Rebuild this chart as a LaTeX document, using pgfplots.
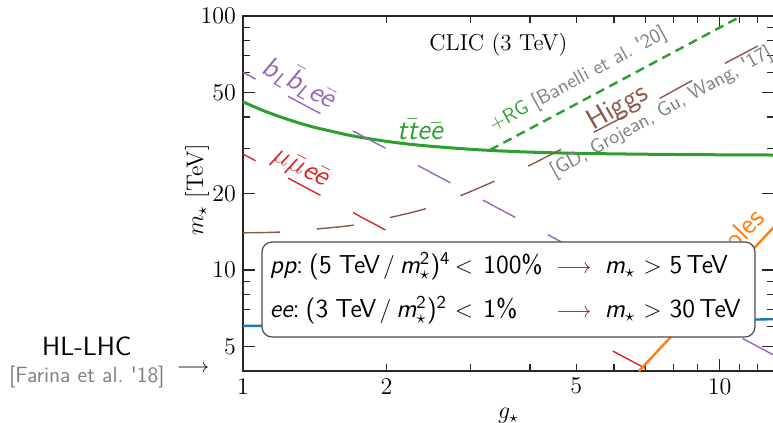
\documentclass[border=0pt]{standalone}
\usepackage{pgfplots}
\pgfplotsset{compat=1.18}
\usepackage{amsmath}
\definecolor{cblue}{HTML}{1F77B4}
\definecolor{corange}{HTML}{FF7F0E}
\definecolor{cgreen}{HTML}{2CA02C}
\definecolor{cred}{HTML}{D62728}
\definecolor{cpurple}{HTML}{9467BD}
\definecolor{cbrown}{HTML}{8C564B}
\definecolor{cgray}{HTML}{7F7F7F}
\definecolor{carrow}{HTML}{A01818}
\newcommand{\s}[1]{\text{\sffamily\itshape #1}}
\newcommand{\boxline}[4]{%
  \makebox[92.5pt][l]{#1}\makebox[45pt][l]{$<$\hspace{5pt}#2}\hspace{5pt}%
  \makebox[19pt]{\fontsize{11.4}{13}\selectfont\textcolor{carrow}{$\longrightarrow$}}\hspace{6pt}%
  $\s{m}_\star$\hspace{4pt}$>$\hspace{4pt}#3\,TeV#4}
\begin{document}
\begin{tikzpicture}
\begin{axis}[
  xmode=log, ymode=log,
  scale only axis, width=265.5pt, height=177.5pt,
  xmin=1, xmax=13, ymin=4, ymax=100,
  xtick={1,10}, xticklabels={1,10},
  extra x ticks={2,5}, extra x tick labels={2,5},
  extra x tick style={major tick length=3.5pt},
  minor xtick={3,4,6,7,8,9,11,12,13},
  ytick={5,10,20,50,100}, yticklabels={5,10,20,50,100},
  minor ytick={4,6,7,8,9,30,40,60,70,80,90},
  tick align=inside,
  major tick length=6pt, minor tick length=3.5pt,
  axis line style={line width=0.9pt, black!85},
  every tick/.style={black!85, line width=0.6pt},
  tick label style={font=\large},
  xlabel={$g_\star$}, ylabel={$m_\star$ [TeV]},
  label style={font=\large},
  ylabel style={at={(rel axis cs:-0.0866,0.51)}, anchor=center},
  clip=false,
]
% t tbar e ebar
\addplot[cgreen, line width=1.5pt, smooth] coordinates {
 (1,45.9) (1.1,42.5) (1.2,40.0) (1.3,38.1) (1.4,36.6) (1.5,35.5) (1.7,33.7)
 (2.0,32.1) (2.3,31.1) (2.7,30.3) (3.2,29.65) (4,29.1) (5,28.8) (6.5,28.6)
 (8.5,28.46) (11,28.39) (13,28.35)};
% +RG
\addplot[cgreen, line width=1.2pt, dash pattern=on 4.6pt off 2.9pt] coordinates {(3.3,29.7) (11.11,100)};
% bL bLbar e ebar
\addplot[cpurple, line width=0.7pt, dash pattern=on 18.4pt off 18.4pt, dash phase=11.3pt] coordinates {(1,60) (13,4.615)};
% mu mubar e ebar
\addplot[cred, line width=0.7pt, dash pattern=on 18.4pt off 18.4pt, dash phase=11.3pt] coordinates {(1,28.6) (7.15,4)};
% Higgs
\addplot[cbrown, line width=0.7pt, dash pattern=on 18.5pt off 18.5pt, smooth] coordinates {
 (1,14.0) (1.196,14.1) (1.43,14.5) (1.70,15.0) (2.01,16.0) (2.41,17.4) (2.82,19.4)
 (3.34,22.2) (3.94,25.5) (4.62,29.7) (5.5,35.2) (6.4,40.8) (7.38,46.7) (8.65,55.0)
 (10.1,64.1) (11.8,74.8) (13,82.5)};
% HL-LHC
\addplot[cblue, line width=1.2pt] coordinates {(1,6.02) (2,6.05) (4,6.12) (7,6.25) (13,6.4)};
% dipoles
\addplot[corange, line width=1.2pt] coordinates {(6.77,4) (13,14.77)};

\node[font=\fontsize{11.5}{13}\selectfont] at (rel axis cs:0.481,0.918) {CLIC (3 TeV)};
\node[cpurple, rotate=-28, font=\Large\sffamily] at (rel axis cs:0.107,0.814) {$\s{b}_{\s{L}}\bar{\s{b}}_{\s{L}}\s{e}\bar{\s{e}}$};
\node[cred, rotate=-28, font=\Large\sffamily] at (rel axis cs:0.107,0.572) {$\mu\bar{\mu}\s{e}\bar{\s{e}}$};
\node[cgreen, font=\Large\sffamily] at (rel axis cs:0.333,0.679) {$\s{t}\bar{\s{t}}\s{e}\bar{\s{e}}$};
\node[rotate=28.5, font=\sffamily] at (rel axis cs:0.631,0.820) {\textcolor{cgreen}{+RG} \textcolor{cgray}{[Banelli et al.\ \textquotesingle 20]}};
\node[cbrown, rotate=30, font=\Large\sffamily] at (rel axis cs:0.706,0.741) {Higgs};
\node[cgray, rotate=29, font=\sffamily] at (rel axis cs:0.788,0.728) {[GD, Grojean, Gu, Wang, \textquotesingle 17]};
\node[corange, rotate=46, font=\Large\sffamily, anchor=base east] at (rel axis cs:0.994,0.44) {Dipoles};

\node[draw=black!70, fill=white, rounded corners=5pt, line width=0.6pt,
      minimum width=246.5pt, minimum height=47.5pt, inner sep=0pt,
      font=\fontsize{13}{15.5}\selectfont\sffamily]
  at (rel axis cs:0.5,0.2296) {%
  \begin{tabular}{@{}l@{}}
  \makebox[238.5pt][l]{\boxline{\s{pp}:\hspace{3pt}(5\hspace{3.5pt}TeV\hspace{1.5pt}$/$\hspace{2.5pt}$\s{m}^{\text{2}}_\star$)$^{\text{4}}$}{100\%}{5}{}} \\[6.5pt]
  \makebox[238.5pt][l]{\boxline{\s{ee}:\hspace{3pt}(3\hspace{3.5pt}TeV\hspace{1.5pt}$/$\hspace{2.5pt}$\s{m}^{\text{2}}_\star$)$^{\text{2}}$}{1\%}{30}{}}
  \end{tabular}};

\node[font=\fontsize{13.2}{15}\selectfont\sffamily] at (rel axis cs:-0.294,0.0704) {HL-LHC};
\node[cgray, font=\fontsize{11}{13}\selectfont\sffamily] at (rel axis cs:-0.294,-0.0169) {[Farina et al.\ \textquotesingle 18]};
\node at (rel axis cs:-0.094,0.006) {$\longrightarrow$};

\coordinate (SW) at (rel axis cs:0,0);
\coordinate (NE) at (rel axis cs:1,1);
\end{axis}
\pgfresetboundingbox
\path ([xshift=-121.5pt,yshift=-26pt]SW) rectangle ([xshift=-0.5pt,yshift=8pt]NE);
\end{tikzpicture}
\end{document}
